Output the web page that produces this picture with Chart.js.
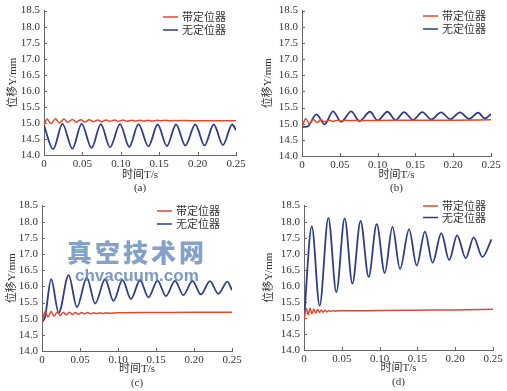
<!DOCTYPE html>
<html>
<head>
<meta charset="utf-8">
<script src="https://cdn.jsdelivr.net/npm/chart.js@4.4.1/dist/chart.umd.min.js"></script>
<style>
  html, body { margin: 0; padding: 0; background: #fff; }
  #wrap { position: relative; width: 507px; height: 391px; overflow: hidden; }
  .cell { position: absolute; }
  .wm { position: absolute; white-space: nowrap; pointer-events: none; }
  #wm1 { left: 67px; top: 233px; font: 900 25px "Noto Sans CJK SC"; letter-spacing: 3px; color: rgba(110, 145, 190, 0.85); }
  #wm2 { left: 75px; top: 266px; font: bold 17px "Liberation Sans"; color: rgba(100, 135, 185, 0.85); }
</style>
</head>
<body>
<div id="wrap">
  <div class="cell" style="left:0;top:0;width:253px;height:195px"><canvas id="chartA"></canvas></div>
  <div class="cell" style="left:253px;top:0;width:254px;height:195px"><canvas id="chartB"></canvas></div>
  <div class="cell" style="left:0;top:195px;width:253px;height:196px"><canvas id="chartC"></canvas></div>
  <div class="cell" style="left:253px;top:195px;width:254px;height:196px"><canvas id="chartD"></canvas></div>
  <div class="wm" id="wm1">真空技术网</div>
  <div class="wm" id="wm2">chvacuum.com</div>
</div>
<script>
// labels and ticks
const seriesNames = ['带定位器', '无定位器'];
const panelTags = ['(a)', '(b)', '(c)', '(d)'];
const xTitle = '时间T/s';
const yTitle = '位移Y/mm';
const xTickValues = [0, 0.05, 0.10, 0.15, 0.20, 0.25];
const xTickLabels = ['0', '0.05', '0.10', '0.15', '0.20', '0.25'];
const yTickValues = [14.0, 14.5, 15.0, 15.5, 16.0, 16.5, 17.0, 17.5, 18.0, 18.5];
const yTickLabels = ['14.0', '14.5', '15.0', '15.5', '16.0', '16.5', '17.0', '17.5', '18.0', '18.5'];

// (a)
const aRedT = [0, 0.004, 0.009, 0.015, 0.020, 0.026, 0.031, 0.037, 0.042, 0.048, 0.053, 0.059, 0.064, 0.070, 0.075, 0.081, 0.086, 0.092, 0.097, 0.103, 0.108, 0.114, 0.119, 0.125, 0.130, 0.136, 0.141, 0.147, 0.152, 0.158, 0.163, 0.169, 0.174, 0.180, 0.190, 0.200, 0.220, 0.250];
const aRedY = [14.93, 15.12, 14.98, 15.13, 15.00, 15.12, 15.02, 15.11, 15.03, 15.10, 15.03, 15.10, 15.04, 15.09, 15.04, 15.09, 15.05, 15.09, 15.05, 15.09, 15.05, 15.08, 15.06, 15.08, 15.06, 15.08, 15.06, 15.08, 15.065, 15.08, 15.065, 15.075, 15.07, 15.075, 15.07, 15.07, 15.07, 15.07];
const aBlueT = [0, 0.012, 0.024, 0.037, 0.049, 0.062, 0.074, 0.086, 0.099, 0.111, 0.123, 0.136, 0.148, 0.160, 0.172, 0.184, 0.197, 0.209, 0.221, 0.233, 0.245, 0.250];
const aBlueY = [14.92, 14.18, 14.97, 14.20, 14.97, 14.22, 14.96, 14.24, 14.96, 14.25, 14.96, 14.27, 14.95, 14.28, 14.95, 14.29, 14.95, 14.30, 14.95, 14.31, 14.95, 14.78];

// (b)
const bRedT = [0, 0.005, 0.010, 0.015, 0.020, 0.025, 0.030, 0.036, 0.041, 0.047, 0.052, 0.058, 0.063, 0.070, 0.080, 0.100, 0.150, 0.200, 0.250];
const bRedY = [14.90, 15.15, 15.00, 15.13, 15.04, 15.12, 15.06, 15.11, 15.07, 15.11, 15.08, 15.11, 15.09, 15.10, 15.10, 15.10, 15.11, 15.11, 15.12];
const bBlueT = [0, 0.004, 0.008, 0.019, 0.030, 0.041, 0.052, 0.065, 0.076, 0.090, 0.100, 0.113, 0.124, 0.135, 0.147, 0.159, 0.171, 0.184, 0.196, 0.209, 0.221, 0.233, 0.242, 0.250];
const bBlueY = [14.90, 14.90, 14.92, 15.29, 14.98, 15.38, 15.06, 15.38, 15.08, 15.37, 15.10, 15.37, 15.11, 15.36, 15.12, 15.36, 15.13, 15.35, 15.14, 15.35, 15.15, 15.34, 15.16, 15.30];

// (c)
const cRedT = [0, 0.004, 0.008, 0.012, 0.016, 0.020, 0.024, 0.028, 0.032, 0.036, 0.040, 0.044, 0.048, 0.052, 0.056, 0.060, 0.064, 0.068, 0.072, 0.076, 0.080, 0.084, 0.088, 0.100, 0.150, 0.200, 0.250];
const cRedY = [14.90, 15.22, 15.05, 15.22, 15.08, 15.21, 15.10, 15.20, 15.12, 15.20, 15.13, 15.19, 15.14, 15.19, 15.15, 15.19, 15.15, 15.18, 15.16, 15.18, 15.16, 15.18, 15.17, 15.18, 15.19, 15.20, 15.20];
const cBlueT = [0, 0.004, 0.012, 0.022, 0.035, 0.046, 0.059, 0.070, 0.083, 0.094, 0.106, 0.117, 0.129, 0.140, 0.152, 0.163, 0.175, 0.186, 0.198, 0.209, 0.221, 0.232, 0.244, 0.250];
const cBlueY = [14.90, 15.05, 16.22, 15.18, 16.35, 15.36, 16.27, 15.47, 16.22, 15.55, 16.20, 15.61, 16.19, 15.66, 16.18, 15.70, 16.17, 15.73, 16.17, 15.75, 16.16, 15.77, 16.15, 15.88];

// (d)
const dRedT = [0, 0.003, 0.0055, 0.008, 0.0105, 0.013, 0.0155, 0.018, 0.0205, 0.023, 0.0255, 0.028, 0.0305, 0.033, 0.0355, 0.038, 0.0405, 0.045, 0.060, 0.100, 0.150, 0.200, 0.250];
const dRedY = [14.95, 15.30, 15.10, 15.30, 15.13, 15.28, 15.15, 15.26, 15.17, 15.25, 15.18, 15.24, 15.19, 15.23, 15.20, 15.23, 15.21, 15.22, 15.22, 15.23, 15.24, 15.25, 15.27];
const dBlueT = [0, 0.0103, 0.0207, 0.0322, 0.0428, 0.0538, 0.064, 0.0748, 0.0855, 0.0962, 0.1068, 0.117, 0.127, 0.139, 0.149, 0.160, 0.170, 0.1817, 0.192, 0.2025, 0.214, 0.2244, 0.236, 0.248];
const dBlueY = [14.95, 17.85, 15.38, 18.12, 15.80, 18.10, 16.07, 18.02, 16.28, 17.92, 16.40, 17.84, 16.53, 17.76, 16.63, 17.69, 16.72, 17.64, 16.80, 17.57, 16.86, 17.51, 16.90, 17.45];

const RED = '#de4a30';
const BLUE = '#2e3d88';
const AXIS = '#666';
const TEXT = '#333';
const NUM_FONT = '"Liberation Serif", "Noto Sans CJK SC", serif';

function toPoints(ts, ys) {
  return ts.map((t, i) => ({ x: t, y: ys[i] }));
}

// small tick marks pointing into the plot
const innerTicks = {
  id: 'innerTicks',
  beforeDatasetsDraw(chart) {
    const { ctx, chartArea, scales } = chart;
    ctx.save();
    ctx.strokeStyle = AXIS;
    ctx.lineWidth = 1;
    ctx.beginPath();
    scales.x.ticks.forEach(t => {
      const px = Math.round(scales.x.getPixelForValue(t.value)) + 0.5;
      ctx.moveTo(px, chartArea.bottom);
      ctx.lineTo(px, chartArea.bottom - 3);
    });
    scales.y.ticks.forEach(t => {
      const py = Math.round(scales.y.getPixelForValue(t.value)) + 0.5;
      ctx.moveTo(chartArea.left, py);
      ctx.lineTo(chartArea.left + 3, py);
    });
    ctx.stroke();
    ctx.restore();
  }
};

// legend drawn at a fixed spot in the top right
const cornerLegend = {
  id: 'cornerLegend',
  afterDatasetsDraw(chart, args, opts) {
    const { ctx } = chart;
    ctx.save();
    ctx.font = '11px "Noto Sans CJK SC", sans-serif';
    ctx.textBaseline = 'middle';
    chart.data.datasets.forEach((ds, i) => {
      const y = opts.y + i * opts.gap;
      ctx.strokeStyle = ds.borderColor;
      ctx.lineWidth = 1.5;
      ctx.beginPath();
      ctx.moveTo(opts.x, y);
      ctx.lineTo(opts.x + 15, y);
      ctx.stroke();
      ctx.fillStyle = TEXT;
      ctx.fillText(ds.label, opts.textX, y);
    });
    ctx.restore();
  }
};

function makePanel(canvasId, tag, redT, redY, blueT, blueY, box) {
  const ctx = document.getElementById(canvasId).getContext('2d');
  return new Chart(ctx, {
    type: 'line',
    data: {
      datasets: [{
        label: seriesNames[0],
        data: toPoints(redT, redY),
        borderColor: RED,
        borderWidth: 1.5,
        pointRadius: 0,
        cubicInterpolationMode: 'monotone',
        fill: false
      }, {
        label: seriesNames[1],
        data: toPoints(blueT, blueY),
        borderColor: BLUE,
        borderWidth: 1.8,
        pointRadius: 0,
        cubicInterpolationMode: 'monotone',
        fill: false
      }]
    },
    options: {
      responsive: true,
      maintainAspectRatio: false,
      animation: false,
      layout: { padding: { left: 0, top: box.top, right: box.right, bottom: 0 } },
      scales: {
        x: {
          type: 'linear',
          min: 0,
          max: 0.25,
          afterBuildTicks: s => { s.ticks = xTickValues.map(v => ({ value: v })); },
          afterFit: s => { s.height = box.xh; },
          grid: { display: false, drawTicks: false },
          border: { display: true, color: AXIS, width: 1 },
          ticks: {
            color: TEXT,
            padding: 3,
            autoSkip: false,
            maxRotation: 0,
            font: { family: NUM_FONT, size: 11 },
            callback: (v, i) => xTickLabels[i]
          },
          title: {
            display: true,
            text: [xTitle, tag],
            color: TEXT,
            padding: { top: 0, bottom: box.tb },
            font: { family: NUM_FONT, size: 11, lineHeight: '13.5px' }
          }
        },
        y: {
          type: 'linear',
          min: 14,
          max: 18.5,
          afterBuildTicks: s => { s.ticks = yTickValues.map(v => ({ value: v })); },
          afterFit: s => { s.width = box.yw; },
          grid: { display: false, drawTicks: false },
          border: { display: true, color: AXIS, width: 1 },
          ticks: {
            color: TEXT,
            padding: 4,
            autoSkip: false,
            font: { family: NUM_FONT, size: 11 },
            callback: (v, i) => yTickLabels[i]
          },
          title: {
            display: true,
            text: yTitle,
            color: TEXT,
            padding: { top: box.yt, bottom: 0 },
            font: { family: NUM_FONT, size: 11 }
          }
        }
      },
      plugins: {
        legend: { display: false },
        tooltip: { enabled: false },
        cornerLegend: box.legend
      }
    },
    plugins: [innerTicks, cornerLegend]
  });
}

makePanel('chartA', panelTags[0], aRedT, aRedY, aBlueT, aBlueY,
  { top: 5, right: 17, xh: 40, yw: 44, tb: 0, yt: 7, legend: { x: 163, textX: 182, y: 17, gap: 13 } });
makePanel('chartB', panelTags[1], bRedT, bRedY, bBlueT, bBlueY,
  { top: 6, right: 16, xh: 39, yw: 49, tb: 0, yt: 9, legend: { x: 170, textX: 189, y: 16, gap: 13 } });
makePanel('chartC', panelTags[2], cRedT, cRedY, cBlueT, cBlueY,
  { top: 7, right: 21, xh: 40, yw: 42, tb: 1.25, yt: 6, legend: { x: 157, textX: 176, y: 16, gap: 13 } });
makePanel('chartD', panelTags[3], dRedT, dRedY, dBlueT, dBlueY,
  { top: 7, right: 14, xh: 41, yw: 51, tb: 2.25, yt: 10, legend: { x: 170, textX: 189, y: 11, gap: 11.5 } });
</script>
</body>
</html>
